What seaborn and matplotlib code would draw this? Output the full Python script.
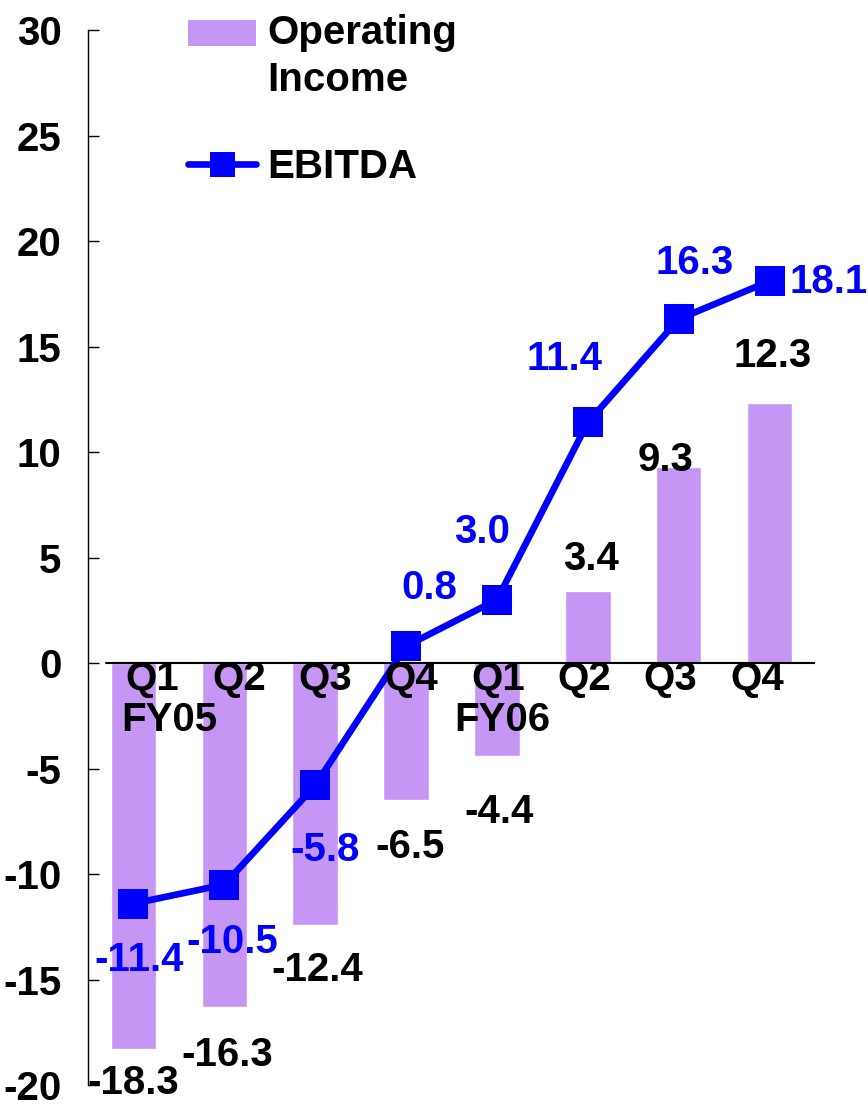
import matplotlib
matplotlib.use("Agg")
import matplotlib.pyplot as plt
import seaborn as sns
import pandas as pd
import numpy as np
from matplotlib.patches import Patch, Rectangle
from matplotlib.lines import Line2D
from matplotlib.legend_handler import HandlerPatch

# ---- data ----
quarters = ["Q1", "Q2", "Q3", "Q4", "Q1", "Q2", "Q3", "Q4"]
fiscal_years = ["FY05", "FY06"]
operating_income = [-18.3, -16.3, -12.4, -6.5, -4.4, 3.4, 9.3, 12.3]
ebitda = [-11.4, -10.5, -5.8, 0.8, 3.0, 11.4, 16.3, 18.1]
y_ticks = [-20, -15, -10, -5, 0, 5, 10, 15, 20, 25, 30]

# ---- label placement (offsets from each mark, data units) ----
oi_dx = [0.0, 0.03, 0.02, 0.04, 0.02, 0.03, -0.14, 0.03]
oi_dy = [-1.6, -2.28, -2.15, -2.22, -2.66, 1.53, 0.3, 2.25]
eb_dx = [0.06, 0.09, 0.11, 0.26, -0.17, -0.26, 0.17, 0.65]
eb_dy = [-2.67, -2.7, -3.06, 2.75, 3.2, 3.0, 2.66, -0.04]

sns.set_theme(style="white")
plt.rcParams["font.family"] = ["Liberation Sans", "DejaVu Sans"]
plt.rcParams["font.weight"] = "bold"
plt.rcParams["text.color"] = "black"

FS = 29
BAR_COLOR = "#C696F4"
LINE_COLOR = "#0000FF"

fig = plt.figure(figsize=(8.68, 11.04), dpi=100)
ax = fig.add_axes([0.1014, 0.0172, 0.8376, 0.9556])

pos = np.arange(len(quarters))
df = pd.DataFrame({"pos": pos, "oi": operating_income, "ebitda": ebitda})

sns.barplot(data=df, x="pos", y="oi", color=BAR_COLOR, width=0.5,
            saturation=1, ax=ax, zorder=1)
ax.axhline(0, xmin=0.025, xmax=1.004, color="black", lw=1.5, zorder=2)
sns.lineplot(data=df, x="pos", y="ebitda", color=LINE_COLOR, lw=4.8,
             marker="s", markersize=21, markeredgewidth=0, ax=ax, zorder=3)

ax.set_xlim(-0.5, 7.5)
ax.set_ylim(-20, 30)
ax.set_xticks([])
ax.set_xlabel("")
ax.set_ylabel("")
ax.set_yticks(y_ticks)
ax.set_yticklabels([str(t) for t in y_ticks], fontsize=FS, fontweight="bold")
ax.tick_params(axis="y", direction="in", length=8, width=1, pad=19,
               left=True, colors="black")
for s in ["top", "right", "bottom"]:
    ax.spines[s].set_visible(False)
ax.spines["left"].set_color("black")
ax.spines["left"].set_linewidth(1)

# quarter labels along the zero line
for i, q in enumerate(quarters):
    ax.text(0.209 + 0.9505 * i, -0.75, q, ha="center", va="center",
            fontsize=FS, fontweight="bold", color="black", zorder=4)
ax.text(0.40, -2.7, fiscal_years[0], ha="center", va="center",
        fontsize=FS, fontweight="bold", color="black", zorder=4)
ax.text(4.06, -2.7, fiscal_years[1], ha="center", va="center",
        fontsize=FS, fontweight="bold", color="black", zorder=4)

# value labels
for i, v in enumerate(operating_income):
    ax.text(i + oi_dx[i], v + oi_dy[i], f"{v:.1f}", ha="center", va="center",
            fontsize=FS, fontweight="bold", color="black", zorder=4,
            clip_on=False)
for i, v in enumerate(ebitda):
    ax.text(i + eb_dx[i], v + eb_dy[i], f"{v:.1f}", ha="center", va="center",
            fontsize=FS, fontweight="bold", color=LINE_COLOR, zorder=4,
            clip_on=False)


def top_patch(legend, orig_handle, xdescent, ydescent, width, height,
              fontsize):
    # keep the swatch level with the first line of a two-line label
    return Rectangle((-xdescent, -ydescent + 0.62 * fontsize), width, height)


handles = [Patch(facecolor=BAR_COLOR, edgecolor="none"),
           Line2D([], [], color=LINE_COLOR, lw=4.8, marker="s",
                  markersize=18, markeredgewidth=0)]
leg = ax.legend(handles, ["Operating\nIncome", "EBITDA"], frameon=False,
                loc="upper left", bbox_to_anchor=(0.115, 1.03),
                fontsize=FS, handlelength=1.7, handleheight=0.62,
                handletextpad=0.27, labelspacing=1.2, borderaxespad=0,
                labelcolor="black",
                handler_map={Patch: HandlerPatch(patch_func=top_patch)})
for t in leg.get_texts():
    t.set_fontweight("bold")
    t.set_linespacing(1.3)

fig.savefig("out.png", dpi=100)
